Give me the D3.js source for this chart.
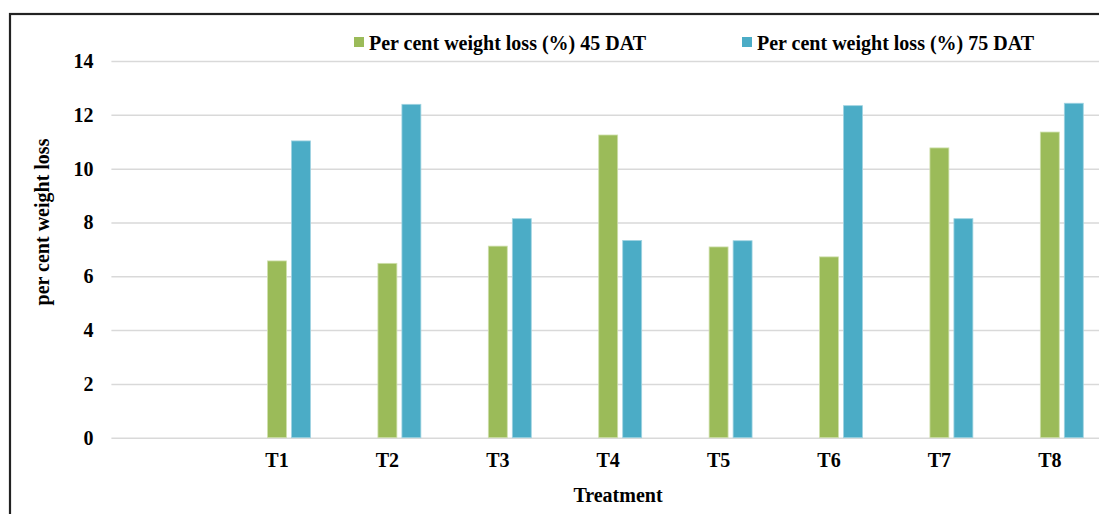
<!DOCTYPE html>
<html>
<head>
<meta charset="utf-8">
<script src="https://cdn.jsdelivr.net/npm/d3@7"></script>
<style>
  html, body { margin: 0; padding: 0; background: #fff; }
  svg { display: block; }
  text { font-family: "Liberation Serif", "Times New Roman", serif; font-weight: bold; fill: #000; }
</style>
</head>
<body>
<svg id="chart" width="1099" height="514"></svg>
<script>
// Treatments on the category axis (the first slot is left empty)
const categories = ["", "T1", "T2", "T3", "T4", "T5", "T6", "T7", "T8"];
// Per cent weight loss at 45 and 75 days after treatment
const loss45 = [null, 6.57, 6.48, 7.12, 11.25, 7.09, 6.72, 10.77, 11.36];
const loss75 = [null, 11.03, 12.39, 8.14, 7.33, 7.32, 12.34, 8.14, 12.43];
const seriesNames = ["Per cent weight loss (%) 45 DAT", "Per cent weight loss (%) 75 DAT"];
const yTicks = [0, 2, 4, 6, 8, 10, 12, 14];

const colors = ["#9BBB59", "#4BACC6"];
const edges = ["#cfe0ad", "#9fd3e1"];
const FONT = "Liberation Serif, Times New Roman, serif";
const FS = 20;

const svg = d3.select("#chart");

// Outer frame of the chart area
svg.append("rect")
  .attr("x", 10).attr("y", 14)
  .attr("width", 1110).attr("height", 520)
  .attr("fill", "none").attr("stroke", "#222").attr("stroke-width", 2.2);

const x0 = d3.scaleBand()
  .domain(categories)
  .range([111.4, 1105])
  .paddingInner(0.348)
  .paddingOuter(0.174);

// Three slots per group: an unused slot followed by the two series
const slots = ["blank", "d45", "d75"];
const x1 = d3.scaleBand()
  .domain(slots)
  .range([0, x0.bandwidth()])
  .paddingInner(0.21)
  .paddingOuter(0.105);

const y = d3.scaleLinear().domain([0, 14]).range([437.7, 61]);

// Horizontal gridlines
const yAxis = d3.axisLeft(y)
  .tickValues(yTicks)
  .tickSize(-(1105 - 111.4))
  .tickPadding(18)
  .tickFormat(d3.format("d"));

const gy = svg.append("g")
  .attr("transform", "translate(111.4,0)")
  .call(yAxis);
gy.select(".domain").remove();
gy.selectAll(".tick line").attr("stroke", "#d9d9d9").attr("stroke-width", 1.5);
gy.selectAll(".tick text")
  .attr("font-size", FS)
  .attr("font-family", FONT)
  .attr("font-weight", "bold")
  .attr("fill", "#000");

// Bars
const rows = categories.map((c, i) => ({ cat: c, d45: loss45[i], d75: loss75[i] }));
const groups = svg.append("g").selectAll("g")
  .data(rows)
  .join("g")
  .attr("transform", d => `translate(${x0(d.cat)},0)`);

["d45", "d75"].forEach((key, k) => {
  groups.filter(d => d[key] != null)
    .append("rect")
    .attr("x", x1(key))
    .attr("width", x1.bandwidth())
    .attr("y", d => y(d[key]))
    .attr("height", d => y(0) - y(d[key]))
    .attr("fill", colors[k])
    .attr("stroke", edges[k])
    .attr("stroke-width", 0.8);
});

// Category labels
const xAxis = d3.axisBottom(x0).tickSize(0).tickPadding(15);
const gx = svg.append("g")
  .attr("transform", `translate(0,${y(0)})`)
  .call(xAxis);
gx.select(".domain").remove();
gx.selectAll(".tick text")
  .attr("font-size", FS)
  .attr("font-family", FONT)
  .attr("font-weight", "bold")
  .attr("fill", "#000");

// Axis titles
svg.append("text")
  .attr("x", 618).attr("y", 502)
  .attr("text-anchor", "middle")
  .attr("font-size", FS)
  .text("Treatment");

svg.append("text")
  .attr("transform", "translate(49,222) rotate(-90)")
  .attr("text-anchor", "middle")
  .attr("font-size", FS)
  .text("per cent weight loss");

// Legend
const legendX = [354, 742];
seriesNames.forEach((name, k) => {
  svg.append("rect")
    .attr("x", legendX[k]).attr("y", 37)
    .attr("width", 10).attr("height", 10)
    .attr("fill", colors[k]);
  svg.append("text")
    .attr("x", legendX[k] + 15).attr("y", 49.5)
    .attr("font-size", FS)
    .text(name);
});
</script>
</body>
</html>
